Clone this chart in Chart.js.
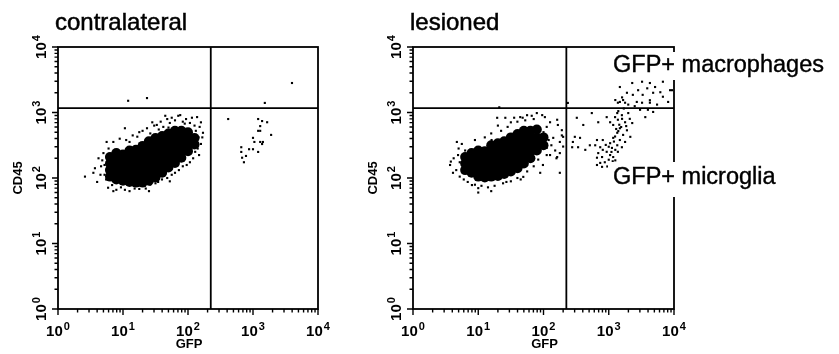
<!DOCTYPE html>
<html>
<head>
<meta charset="utf-8">
<script src="https://cdn.jsdelivr.net/npm/chart.js@4.4.1/dist/chart.umd.min.js"></script>
<style>
html, body { margin: 0; padding: 0; background: #fff; }
#wrap { position: relative; width: 839px; height: 354px; overflow: hidden; }
canvas { position: absolute; top: 0; }
</style>
</head>
<body>
<div id="wrap">
  <canvas id="c1" width="355" height="354" style="left:0px"></canvas>
  <canvas id="c2" width="484" height="354" style="left:355px"></canvas>
</div>
<script>
// axis decades and labels (both axes are 10^0 .. 10^4)
var decadeValues = [1, 10, 100, 1000, 10000];
var decadeExponents = ['0', '1', '2', '3', '4'];
var minorSteps = [2, 3, 4, 5, 6, 7, 8, 9];
var axisNames = { x: 'GFP', y: 'CD45' };
var panelTitles = ['contralateral', 'lesioned'];
var gateGFP = 224;
var gateCD45 = 1170;
var quadrantLabels = ['GFP+ macrophages', 'GFP+ microglia'];

// [GFP, CD45] events
// dense centre of the contralateral population (drawn as fat dots)
var leftCore = [
  [6.3,105],[6.3,132],[6.3,166],[6.3,209],
  [7.9,95],[7.9,120],[7.9,151],[7.9,191],[7.9,240],
  [10,91],[10,115],[10,145],[10,182],[10,229],
  [12.6,87],[12.6,110],[12.6,138],[12.6,174],[12.6,219],[12.6,263],
  [15.8,85],[15.8,107],[15.8,135],[15.8,170],[15.8,214],[15.8,269],
  [20,85],[20,107],[20,135],[20,170],[20,214],[20,269],[20,309],
  [25,91],[25,115],[25,145],[25,182],[25,229],[25,288],[25,363],
  [31.6,102],[31.6,129],[31.6,162],[31.6,204],[31.6,257],[31.6,324],[31.6,407],
  [40,120],[40,151],[40,191],[40,240],[40,302],[40,380],[40,437],
  [50,145],[50,182],[50,229],[50,288],[50,363],[50,479],
  [63,170],[63,214],[63,269],[63,339],[63,427],[63,525],
  [79,204],[79,257],[79,324],[79,407],[79,525],
  [100,257],[100,324],[100,407],[100,501],
  [126,324],[126,407]
];
// scattered contralateral events around the centre
var leftSparse = [
  [7.1,355],[8.9,398],[11.2,380],[14.1,447],[16.6,427],[20,525],[23.4,575],[26.3,479],
  [30.2,631],[33.1,646],[38,724],[41.7,603],[47.9,794],[52.5,692],[56.2,832],[63.1,759],
  [70.8,891],[75.9,912],[83.2,724],[93.3,794],[107,692],[115,832],[126,631],[138,851],
  [151,603],[158,708],[170,490],[166,417],[145,417],[44.7,891],[28.2,708],[17.8,501],
  [12.6,355],[35.5,550],[50.1,589],[89.1,676],[132,525],
  [2.6,105],[3.5,120],[3.7,141],[4.0,87],[4.8,186],[5.2,112],[5.6,355],[5.0,240],
  [4.6,151],[4.2,200],[5.5,95],[6.0,282],[4.5,112],[5.2,158],[5.8,209],
  [5.9,71],[6.8,78],[7.9,66],[9.3,72],[10.7,66],[12.6,63],[15.1,69],[17.8,68],
  [19.5,78],[22.4,69],[26.3,79],[31.6,83],[34.7,87],[39.8,95],[47.9,100],[56.2,112],
  [63.1,120],[72.4,132],[83.2,151],[95.5,158],[107,174],[120,200],[129,251],[141,282],
  [158,331],[148,224],[52.5,89],[25.1,63],[7.1,63],
  [12,1510],[23.4,1660],[10.7,575]
];
// contralateral events right of the GFP gate
var leftPositive = [
  [3980,2820],[1520,1400],[415,795],[1200,795],[1380,740],[1650,710],[1290,620],
  [1200,525],[1290,525],[1900,455],[1000,410],[1050,355],[1290,355],[1420,355],
  [1380,330],[660,295],[870,275],[1000,275],[1200,250],[660,250],[780,217],
  [680,204],[725,174]
];

// dense centre of the lesioned population
var rightCore = [
  [6.3,132],[6.3,166],[6.3,209],
  [7.9,120],[7.9,151],[7.9,191],[7.9,240],
  [10,105],[10,132],[10,166],[10,209],[10,263],
  [12.6,102],[12.6,129],[12.6,162],[12.6,204],[12.6,257],
  [15.8,105],[15.8,132],[15.8,166],[15.8,209],[15.8,263],[15.8,316],
  [20,107],[20,135],[20,170],[20,214],[20,269],[20,339],
  [25,115],[25,145],[25,182],[25,229],[25,288],[25,363],
  [31.6,126],[31.6,158],[31.6,200],[31.6,251],[31.6,316],[31.6,417],
  [40,141],[40,178],[40,224],[40,282],[40,355],[40,468],
  [50,166],[50,209],[50,263],[50,331],[50,437],[50,525],
  [63,200],[63,251],[63,316],[63,398],[63,525],
  [79,263],[79,331],[79,417],[79,550],
  [100,316],[100,417]
];
var rightSparse = [
  [3.7,158],[4.1,120],[4.9,224],[5.2,174],[4.7,355],[6.9,87],[8,78],[10,70],
  [16,380],[19.5,830],[26,830],[44,850],[56,910],[79,980],[105,850],[126,710],
  [162,775],[166,645],[141,410],[112,288],[126,224],[162,209],[98,158],[89,120],
  [178,120],[49,104],[27,87],[21,1200],[236,1400],[191,537],[200,425],[178,240],
  [8.9,380],[12.6,417],[15.8,479],[22.4,525],[28.2,603],[31.6,708],[39.8,724],
  [47.9,832],[52.5,759],[70.8,794],[66,891],[95.5,912],[112,603],[100,501],
  [120,380],[132,316],[151,263],[178,355],[191,447],[200,302],[158,200],[112,224],
  [20,631],[35.5,832],
  [4.2,200],[5,282],[4.6,132],[5.2,105],[3.8,178],[6,95],[6.3,263],[5.6,331],
  [8.9,79],[11.2,76],[14.1,72],[17.8,76],[24,83],[31.6,89],[39.8,100],[56.2,126],
  [70.8,151],[83,191],[44.7,95],[15.8,63],[10,60]
];
var rightPositive = [
  [1480,2450],[2290,2820],[3240,2950],[4270,2820],[5130,2450],[6760,2950],[2820,2190],
  [3890,2340],[1900,2000],[2340,1860],[3310,1860],[4790,2000],[6170,2040],[8710,2190],
  [6760,1740],[8130,1450],[1260,1550],[1480,1450],[1660,1550],[1780,1410],[1380,1410],
  [1990,1320],[2690,1450],[3240,1410],[4270,1410],[5500,1320],[3980,1100],[4790,1020],
  [3630,850],[3020,1100],[9330,2190],[4270,1540],[1600,1700],[2500,1250],
  [1350,980],[1590,910],[1990,980],[1380,775],[1780,710],[2290,690],[1170,645],
  [1480,575],[1900,535],[1350,490],[1660,455],[2140,425],[1170,410],[1480,380],
  [1780,355],[1050,340],[1350,316],[1590,295],[1120,288],[1260,269],[1380,251],
  [810,380],[660,380],[620,316],[740,295],[810,269],[930,251],[690,240],[790,209],
  [1050,224],[1170,209],[660,204],[870,174],[1260,186],[660,158],[790,148],[690,710],
  [550,980],[930,850],[1050,710],
  [1250,430],[1400,520],[1550,600],[1300,560],[1450,650],[1200,360],[1000,300],
  [1100,250],[1600,800],[1250,850],[1400,1050],[1700,1150],[2100,800],[1850,620],
  [900,320],[1000,190],[950,150],[740,170],[1150,180],
  [324,830],[407,645],[302,425],[363,410],[513,316],[282,355],[437,269],[339,295],[275,295]
];

function pts(arr) {
  return arr.map(function (p) { return { x: p[0], y: p[1] }; });
}

var FONT = '"Liberation Sans", Arial, Helvetica, sans-serif';

// draws "10" with a raised exponent, centred on (0,0) of the current transform
function drawPower(ctx, exp) {
  ctx.font = 'bold 15px ' + FONT;
  var w1 = ctx.measureText('10').width;
  ctx.font = 'bold 11px ' + FONT;
  var w2 = ctx.measureText(exp).width;
  var start = -(w1 + 1 + w2) / 2;
  ctx.textAlign = 'left';
  ctx.textBaseline = 'alphabetic';
  ctx.font = 'bold 15px ' + FONT;
  ctx.fillText('10', start, 0);
  ctx.font = 'bold 11px ' + FONT;
  ctx.fillText(exp, start + w1 + 1, -6);
}

var flowPlugin = {
  id: 'flow',
  afterDatasetsDraw: function (chart, args, opts) {
    var ctx = chart.ctx, a = chart.chartArea;
    var xs = chart.scales.x, ys = chart.scales.y;
    ctx.save();
    ctx.strokeStyle = '#000';
    ctx.fillStyle = '#000';

    // box + gates
    ctx.lineWidth = 1.8;
    var gx = xs.getPixelForValue(gateGFP), gy = ys.getPixelForValue(gateCD45);
    ctx.beginPath();
    ctx.moveTo(gx, a.top); ctx.lineTo(gx, a.bottom);
    ctx.moveTo(a.left, gy); ctx.lineTo(a.right, gy);
    ctx.stroke();
    ctx.strokeRect(a.left, a.top, a.right - a.left, a.bottom - a.top);

    // tick marks, major and minor, outside the box
    ctx.lineWidth = 1.4;
    ctx.beginPath();
    decadeValues.forEach(function (v, i) {
      var px = xs.getPixelForValue(v), py = ys.getPixelForValue(v);
      ctx.moveTo(px, a.bottom); ctx.lineTo(px, a.bottom + 6);
      ctx.moveTo(a.left, py); ctx.lineTo(a.left - 6, py);
      if (i < decadeValues.length - 1) {
        minorSteps.forEach(function (k) {
          var mx = xs.getPixelForValue(v * k), my = ys.getPixelForValue(v * k);
          ctx.moveTo(mx, a.bottom); ctx.lineTo(mx, a.bottom + 3.5);
          ctx.moveTo(a.left, my); ctx.lineTo(a.left - 3.5, my);
        });
      }
    });
    ctx.stroke();

    // tick labels
    decadeValues.forEach(function (v, i) {
      var px = xs.getPixelForValue(v), py = ys.getPixelForValue(v);
      ctx.save();
      ctx.translate(px, a.bottom + 27);
      drawPower(ctx, decadeExponents[i]);
      ctx.restore();
      ctx.save();
      ctx.translate(a.left - 12, py);
      ctx.rotate(-Math.PI / 2);
      drawPower(ctx, decadeExponents[i]);
      ctx.restore();
    });

    // axis names
    ctx.font = 'bold 13px ' + FONT;
    ctx.textAlign = 'center';
    ctx.textBaseline = 'alphabetic';
    ctx.fillText(axisNames.x, (a.left + a.right) / 2 + 1, a.bottom + 39);
    ctx.save();
    ctx.translate(a.left - 36, (a.top + a.bottom) / 2);
    ctx.rotate(-Math.PI / 2);
    ctx.fillText(axisNames.y, 0, 0);
    ctx.restore();

    // panel title
    ctx.font = '24px ' + FONT;
    ctx.textAlign = 'left';
    ctx.lineWidth = 0.5;
    ctx.fillText(opts.title, a.left - 3, 30);
    ctx.strokeText(opts.title, a.left - 3, 30);

    // quadrant labels with white backing
    if (opts.showQuadrants) {
      var lx = a.right - 61;
      ctx.fillStyle = '#fff';
      ctx.fillRect(lx - 5, 52, chart.width - lx + 5, 28);
      ctx.fillRect(lx - 5, 162, 180, 35);
      ctx.fillStyle = '#000';
      ctx.font = '23.5px ' + FONT;
      ctx.fillText(quadrantLabels[0], lx, 72);
      ctx.fillText(quadrantLabels[1], lx, 184);
      ctx.lineWidth = 0.4;
      ctx.strokeText(quadrantLabels[0], lx, 72);
      ctx.strokeText(quadrantLabels[1], lx, 184);
    }
    ctx.restore();
  }
};

function makeChart(id, core, sparse, positive, title, pad, showQuadrants) {
  var dot = { pointStyle: 'rect', pointRadius: 1.5, pointBackgroundColor: '#000', pointBorderWidth: 0, showLine: false };
  return new Chart(document.getElementById(id), {
    type: 'scatter',
    data: {
      datasets: [
        Object.assign({ label: 'core', data: pts(core) }, dot,
          { pointStyle: 'circle', pointRadius: 5 }),
        Object.assign({ label: 'events', data: pts(sparse) }, dot),
        Object.assign({ label: 'GFP+', data: pts(positive) }, dot)
      ]
    },
    options: {
      responsive: false,
      animation: false,
      devicePixelRatio: 1,
      layout: { padding: pad },
      scales: {
        x: { type: 'logarithmic', min: 1, max: 10000, display: false },
        y: { type: 'logarithmic', min: 1, max: 10000, display: false }
      },
      plugins: {
        legend: { display: false },
        tooltip: { enabled: false },
        flow: { title: title, showQuadrants: showQuadrants }
      }
    },
    plugins: [flowPlugin]
  });
}

makeChart('c1', leftCore, leftSparse, leftPositive, panelTitles[0],
  { left: 58, top: 47, right: 37, bottom: 45 }, false);
makeChart('c2', rightCore, rightSparse, rightPositive, panelTitles[1],
  { left: 58, top: 47, right: 165, bottom: 45 }, true);
</script>
</body>
</html>
